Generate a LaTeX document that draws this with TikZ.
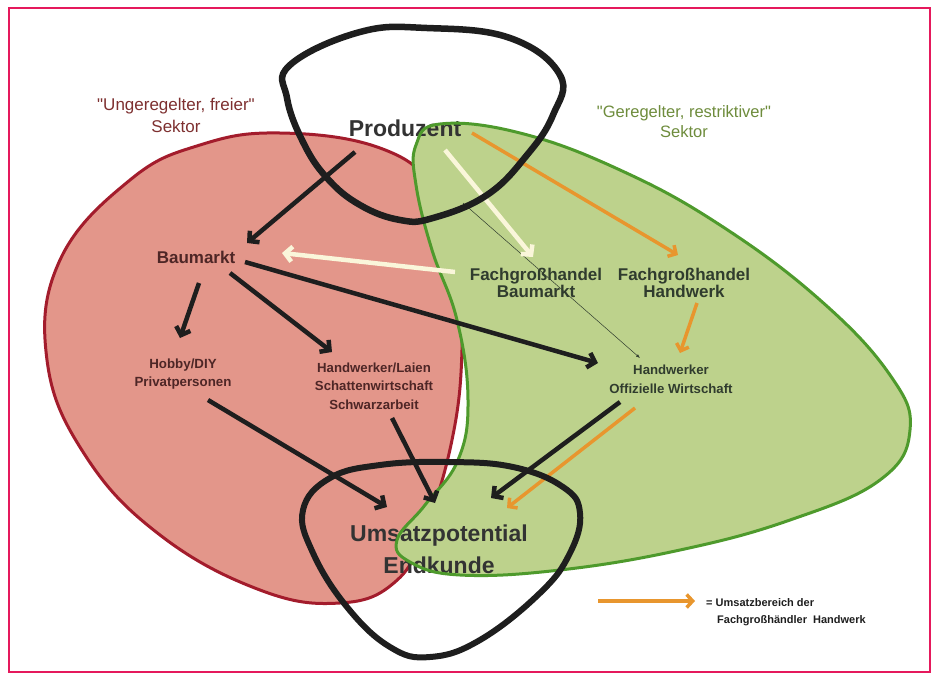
\documentclass[tikz,border=0pt]{standalone}
\usepackage{fontspec}
\setmainfont{Liberation Sans}[Ligatures=TeXOff]
\usetikzlibrary{arrows.meta,calc}
\definecolor{framecol}{HTML}{E5195C}
\definecolor{redfill}{HTML}{E3968A}
\definecolor{redline}{HTML}{A31C2C}
\definecolor{greenfill}{HTML}{BDD28C}
\definecolor{greenline}{HTML}{4E9A2C}
\definecolor{orangecol}{HTML}{E8962E}
\definecolor{creamcol}{HTML}{FAF6DA}
\definecolor{blackcol}{HTML}{1E1E1E}
\definecolor{redtext}{HTML}{7E3030}
\definecolor{greentext}{HTML}{6E8C3C}
\definecolor{darkred}{HTML}{4E2626}
\definecolor{darkgreen}{HTML}{303C2E}
\definecolor{darkgrey}{HTML}{333333}
\begin{document}
\begin{tikzpicture}[x=1pt,y=-1pt,
  lbl/.style={inner sep=0pt, align=center},
  blkarrow/.style={draw=blackcol, line width=4.5pt, -{Straight Barb[length=7pt,width=15pt]}},
  orgarrow/.style={draw=orangecol, line width=3.5pt, -{Straight Barb[length=6pt,width=13pt]}},
  crmarrow/.style={draw=creamcol, line width=4.5pt, -{Straight Barb[length=7pt,width=15pt]}},
  thinarrow/.style={draw=darkgreen, line width=0.5pt, -{Latex[length=4pt,width=3pt]}},
  loopline/.style={draw=blackcol, line width=6.5pt, line join=round}]
\useasboundingbox (0,0) rectangle (938,681);
\fill[white] (0,0) rectangle (938,681);
\draw[framecol, line width=2.5pt] (9,8) rectangle (930,672);

% red sector
\fill[redfill] plot[smooth cycle, tension=0.7] coordinates {(280,133) (380,148) (435,190) (458,260) (462,350) (452,440) (425,530) (395,582) (340,603) (260,590) (160,535) (85,455) (47,360) (60,260) (130,180) (200,145)};
\draw[redline, line width=3pt] plot[smooth cycle, tension=0.7] coordinates {(280,133) (380,148) (435,190) (458,260) (462,350) (452,440) (425,530) (395,582) (340,603) (260,590) (160,535) (85,455) (47,360) (60,260) (130,180) (200,145)};
% green sector
\fill[greenfill] plot[smooth cycle, tension=0.7] coordinates {(440,124) (520,133) (620,170) (720,225) (820,300) (890,375) (910,430) (880,480) (790,520) (680,550) (560,570) (460,575) (410,562) (397,540) (425,505) (458,460) (468,400) (457,320) (432,250) (416,185) (416,145)};

% texts
\node[lbl, text=redtext, font=\fontsize{17}{22}\selectfont] (ung) at (176,115) {"Ungeregelter, freier"\\Sektor};
\node[lbl, text=greentext, font=\fontsize{16.5}{20}\selectfont] (ger) at (684,122) {"Geregelter, restriktiver"\\Sektor};
\node[lbl, text=darkgrey, font=\bfseries\fontsize{23}{26}\selectfont] (prod) at (405,128) {Produzent};
\node[lbl, text=darkred, font=\bfseries\fontsize{17}{20}\selectfont] (bm) at (196,257) {Baumarkt};
\node[lbl, text=darkred, font=\bfseries\fontsize{13.3}{18}\selectfont] (hob) at (183,374) {Hobby/DIY\\Privatpersonen};
\node[lbl, text=darkred, font=\bfseries\fontsize{13.2}{18.5}\selectfont] (hwl) at (374,386) {Handwerker/Laien\\Schattenwirtschaft\\Schwarzarbeit};
\node[lbl, text=darkgreen, font=\bfseries\fontsize{17}{17}\selectfont] (fgb) at (536,283) {Fachgroßhandel\\Baumarkt};
\node[lbl, text=darkgreen, font=\bfseries\fontsize{17}{17}\selectfont] (fgh) at (684,283) {Fachgroßhandel\\Handwerk};
\node[lbl, text=darkgreen, font=\bfseries\fontsize{13.2}{19}\selectfont] (hwo) at (671,379) {Handwerker\\Offizielle Wirtschaft};
\node[lbl, text=darkgrey, font=\bfseries\fontsize{23}{32}\selectfont] (ums) at (439,549) {Umsatzpotential\\Endkunde};
\node[lbl, anchor=west, align=left, text=blackcol, font=\bfseries\fontsize{11}{17}\selectfont] (leg) at (706,612) {= Umsatzbereich der\\\hspace*{11pt}Fachgroßhändler\ \ Handwerk};

% green outline
\draw[greenline, line width=3pt] plot[smooth cycle, tension=0.7] coordinates {(440,124) (520,133) (620,170) (720,225) (820,300) (890,375) (910,430) (880,480) (790,520) (680,550) (560,570) (460,575) (410,562) (397,540) (425,505) (458,460) (468,400) (457,320) (432,250) (416,185) (416,145)};

% connectors
\coordinate (thinstart) at (463,203);
\draw[thinarrow] (thinstart) -- ($(hwo)+(-31,-21)$);
\draw[crmarrow] ($(prod)+(40,22)$) -- ($(fgb)+(-3,-26)$);
\draw[crmarrow] ($(fgb)+(-81,-11)$) -- ($(bm)+(86,-4)$);
\draw[orgarrow] ($(prod)+(67,5)$) -- ($(fgh)+(-6,-28)$);
\draw[orgarrow] ($(fgh)+(13,20)$) -- ($(hwo)+(9,-26)$);
\draw[orgarrow] ($(hwo)+(-36,29)$) -- ($(ums)+(68,-41)$);
\draw[blkarrow] ($(prod)+(-50,24)$) -- ($(bm)+(51,-14)$);
\draw[blkarrow] ($(bm)+(3,26)$) -- ($(hob)+(-3,-36)$);
\draw[blkarrow] ($(bm)+(34,16)$) -- ($(hwl)+(-42,-34)$);
\draw[blkarrow] ($(bm)+(49,5)$) -- ($(hwo)+(-73,-16)$);
\draw[blkarrow] ($(hob)+(25,26)$) -- ($(ums)+(-52,-42)$);
\draw[blkarrow] ($(hwl)+(18,32)$) -- ($(ums)+(-4,-46)$);
\draw[blkarrow] ($(hwo)+(-51,23)$) -- ($(ums)+(52,-51)$);

% legend arrow
\coordinate (la1) at (598,601);
\coordinate (la2) at (695,601);
\draw[orgarrow] (la1) -- (la2);

% loops
\draw[loopline] plot[smooth cycle, tension=0.7] coordinates {(290,65) (360,32) (427,28) (510,38) (560,75) (553,115) (527,155) (487,195) (433,218) (400,220) (360,205) (327,178) (303,142) (287,98)};
\draw[loopline, line width=6pt] plot[smooth cycle, tension=0.7] coordinates {(303,510) (330,478) (380,465) (447,462) (513,467) (563,487) (580,513) (570,553) (540,593) (480,640) (430,657) (390,647) (347,607) (313,553)};
\end{tikzpicture}
\end{document}
